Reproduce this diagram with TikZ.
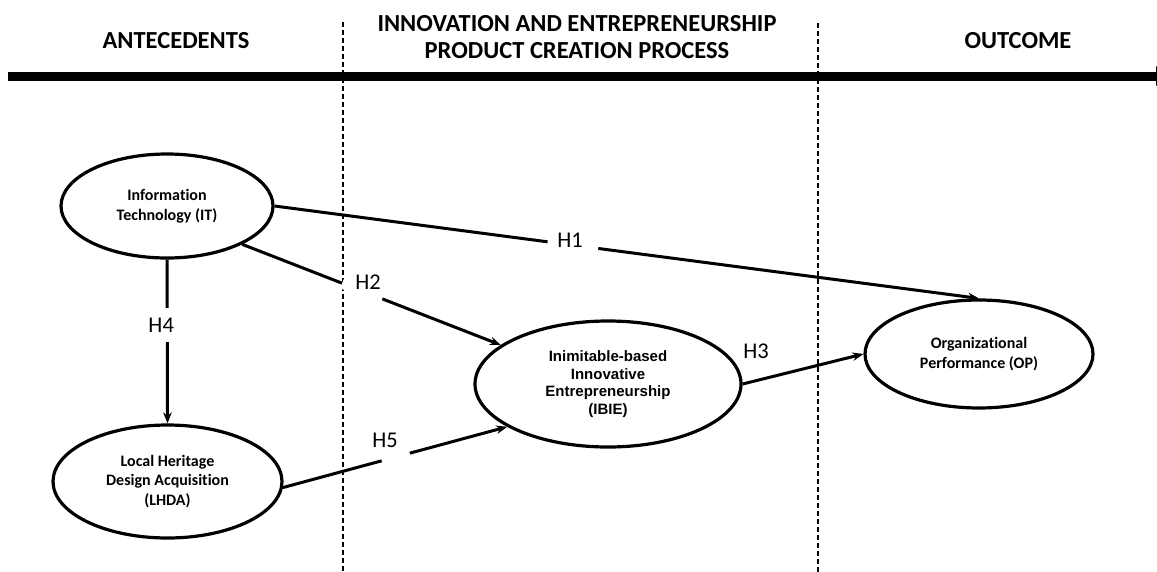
\documentclass[tikz,border=0pt]{standalone}
\usepackage{fontspec}
\setmainfont{Carlito}[Ligatures=NoCommon]
\newfontfamily\arialf{Liberation Sans}
\usetikzlibrary{shapes.geometric,arrows.meta}
\begin{document}
\begin{tikzpicture}[x=1pt,y=-1pt,
 hdr/.style={font=\fontsize{24.5}{27}\selectfont\bfseries, align=center, inner sep=0pt},
 construct/.style={ellipse, draw, line width=3.2pt, inner sep=0pt, align=center, fill=white,
   font=\fontsize{16}{19.5}\selectfont\bfseries},
 hyp/.style={font=\fontsize{22.5}{24}\selectfont, inner sep=1pt},
 link/.style={line width=3pt, -{Stealth[length=11pt,width=8.5pt]}},
 gap/.style={sloped, fill=white, inner sep=0pt, minimum height=11pt},
 divider/.style={line width=1.4pt, dash pattern=on 5pt off 3pt}]
\useasboundingbox (0,0) rectangle (1157,571);
% dividers
\coordinate (d1t) at (343,22); \coordinate (d1b) at (343,575);
\coordinate (d2t) at (818,23); \coordinate (d2b) at (818,575);
\draw[divider] (d1t) -- (d1b);
\draw[divider] (d2t) -- (d2b);
% time line
\coordinate (t0) at (8,76); \coordinate (t1) at (1176,76);
\draw[line width=9pt, -{Triangle[length=20pt,width=18pt]}] (t0) -- (t1);
% headers
\node[hdr] (ante) at (176,41) {ANTECEDENTS};
\node[hdr] (proc) at (577,37.5) {INNOVATION AND ENTREPRENEURSHIP\\PRODUCT CREATION PROCESS};
\node[hdr] (outc) at (1018,41) {OUTCOME};
% constructs
\node[construct, minimum width=212pt, minimum height=104pt] (it) at (167,206) {Information\\Technology (IT)};
\node[construct, minimum width=229pt, minimum height=113pt] (lhda) at (167.5,481.5) {Local Heritage\\Design Acquisition\\(LHDA)};
\node[construct, minimum width=266pt, minimum height=126pt, font=\arialf\fontsize{15}{17.7}\selectfont\bfseries] (ibie) at (608,384) {Inimitable-based\\Innovative\\Entrepreneurship\\(IBIE)};
\node[construct, minimum width=228pt, minimum height=108pt] (op) at (979,354) {Organizational\\Performance (OP)};
% links
\draw[link] (it.east) -- node[gap, pos=0.4235, minimum width=51pt] (g1) {} (op.north);
\node[hyp] (h1) at (570,240) {H1};
\draw[link] (it.-27) -- node[gap, pos=0.464, minimum width=43pt] (g2) {} (ibie.160);
\node[hyp] (h2) at (368,282) {H2};
\draw[link] (ibie.east) -- (op.west);
\node[hyp] (h3) at (756,351) {H3};
\draw[link] (it.south) -- node[hyp, fill=white, pos=0.4, xshift=-6pt, minimum height=34pt] (h4) {H4} (lhda.north);
\draw[link] (lhda.-3) -- node[gap, pos=0.503, minimum width=29pt] (g5) {} (ibie.203);
\node[hyp] (h5) at (385,440) {H5};
\end{tikzpicture}
\end{document}
